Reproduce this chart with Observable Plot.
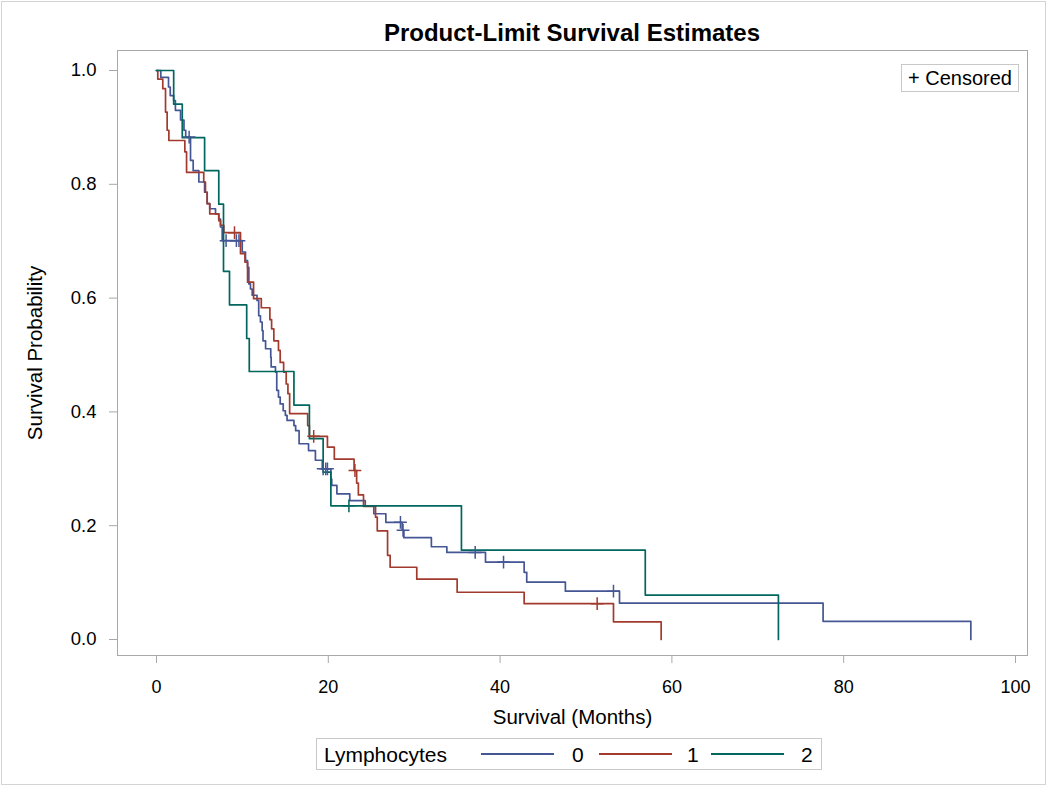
<!DOCTYPE html>
<html><head><meta charset="utf-8">
<script src="https://cdn.jsdelivr.net/npm/d3@7"></script>
<script src="https://cdn.jsdelivr.net/npm/@observablehq/plot@0.6"></script>
<style>
body{margin:0;background:#fff;font-family:"Liberation Sans",Arial,sans-serif;}
#wrap{position:relative;width:1050px;height:788px;overflow:hidden;background:#fff;}
#chart{position:absolute;left:0;top:0;}
#border{position:absolute;left:1px;top:1px;width:1045px;height:784px;border:1px solid #d4d4d4;box-sizing:border-box;}
#title{position:absolute;left:117px;width:910px;top:19px;text-align:center;font-weight:bold;font-size:24px;color:#000;}
#cens{position:absolute;left:901px;top:64px;width:118px;height:28px;border:1px solid #c8c8c8;box-sizing:border-box;font-size:20px;line-height:26px;padding-left:6px;color:#000;background:#fff;white-space:nowrap;}
#legend{position:absolute;left:316px;top:738px;width:506px;height:32px;border:1px solid #c8c8c8;box-sizing:border-box;font-size:21px;color:#000;}
#legend span{position:absolute;top:4px;}
#legend i{position:absolute;top:14px;height:0;border-top:2px solid;}
</style></head>
<body><div id="wrap">
<div id="chart"></div>
<div id="border"></div>
<div id="title">Product-Limit Survival Estimates</div>
<div id="cens">+ Censored</div>
<div id="legend"></div>
</div>
<script>
// Groups (Lymphocytes)
const groups = ["0", "1", "2"];
const colors = ["#445694", "#A23A2E", "#01665E"];
const legendTitle = "Lymphocytes";

// Group 0 event times (months) and survival after each event
const time0 = [0.5,1.4,1.6,2.0,2.2,2.8,3.2,3.4,3.96,4.27,4.93,5.6,5.9,6.2,6.87,7.25,7.45,7.65,9.98,10.36,10.6,10.75,10.94,11.14,11.7,11.9,12.1,12.3,12.4,12.7,13.3,13.35,13.85,14.0,14.2,14.4,14.75,15.0,15.2,16.0,16.2,16.6,17.7,18.5,19.3,20.3,20.4,21.0,22.5,24.3,25.3,26.7,28.6,28.8,32.0,33.8,38.3,42.8,43.1,47.6,53.9,77.6,94.8];
const surv0 = [0.988,0.971,0.956,0.947,0.930,0.913,0.895,0.883,0.842,0.824,0.804,0.786,0.766,0.757,0.748,0.739,0.725,0.701,0.681,0.666,0.654,0.625,0.616,0.605,0.596,0.569,0.558,0.543,0.525,0.511,0.496,0.479,0.470,0.438,0.426,0.414,0.402,0.394,0.385,0.376,0.367,0.344,0.332,0.315,0.300,0.282,0.271,0.256,0.244,0.235,0.221,0.206,0.192,0.179,0.163,0.153,0.136,0.118,0.101,0.085,0.064,0.032,0.0];
const censT0 = [3.8,8.1,9.3,9.6,19.4,19.7,19.9,28.4,28.7,37.1,40.4,53.2];
const censS0 = [0.883,0.701,0.701,0.701,0.300,0.300,0.300,0.206,0.192,0.153,0.136,0.085];

// Group 1
const time1 = [0.15,0.73,1.05,1.24,1.44,3.3,3.5,5.5,5.7,5.9,6.2,7.25,7.45,7.84,9.78,10.3,10.6,11.3,12.2,13.2,13.4,13.66,14.2,14.4,14.8,15.1,15.3,15.5,17.6,17.8,19.9,20.7,23.0,23.3,23.5,24.1,25.5,25.7,26.9,27.2,30.3,35.0,42.8,53.2,58.75];
const surv1 = [0.985,0.968,0.927,0.895,0.877,0.857,0.821,0.804,0.786,0.766,0.748,0.736,0.728,0.715,0.678,0.663,0.628,0.599,0.583,0.562,0.546,0.525,0.508,0.487,0.470,0.449,0.432,0.397,0.376,0.357,0.338,0.317,0.297,0.275,0.254,0.234,0.215,0.191,0.148,0.127,0.106,0.083,0.063,0.031,0.0];
const censT1 = [9.08,18.3,23.1,51.3];
const censS1 = [0.715,0.357,0.297,0.063];

// Group 2
const time2 = [2.0,3.0,5.6,7.25,7.8,8.5,10.5,10.8,16.0,17.8,19.4,20.3,35.5,56.9,72.4];
const surv2 = [0.941,0.882,0.824,0.765,0.647,0.588,0.529,0.471,0.412,0.353,0.294,0.235,0.157,0.078,0.0];
const censT2 = [22.4];
const censS2 = [0.235];

const xTicks = [0,20,40,60,80,100];
const yTicks = [0,0.2,0.4,0.6,0.8,1.0];

const times = [time0, time1, time2], survs = [surv0, surv1, surv2];
const cT = [censT0, censT1, censT2], cS = [censS0, censS1, censS2];
const curves = [], cens = [];
groups.forEach((g, i) => {
  curves.push({g, t: 0, s: 1});
  times[i].forEach((t, j) => curves.push({g, t, s: survs[i][j]}));
  cT[i].forEach((t, j) => cens.push({g, t, s: cS[i][j]}));
});

const font = "Liberation Sans, Arial, sans-serif";
const chart = Plot.plot({
  width: 1050, height: 788,
  marginLeft: 117, marginRight: 23, marginTop: 50, marginBottom: 133,
  x: {domain: [0, 100], insetLeft: 39, insetRight: 12},
  y: {domain: [0, 1], insetTop: 20, insetBottom: 16},
  color: {domain: groups, range: colors},
  style: {fontFamily: font, background: "transparent", color: "#000"},
  marks: [
    Plot.frame({stroke: "#a8a8a8"}),
    Plot.axisX({ticks: xTicks, tickSize: 8, tickPadding: 17, stroke: "#a8a8a8", fill: "#000", fontSize: 18,
      label: "Survival (Months)", labelAnchor: "center", labelArrow: "none", labelOffset: 68}),
    Plot.axisY({ticks: yTicks, tickFormat: d => d.toFixed(1), tickSize: 8, tickPadding: 13, stroke: "#a8a8a8", fill: "#000", fontSize: 18.5,
      label: "Survival Probability", labelAnchor: "center", labelArrow: "none", labelOffset: 90}),
    Plot.line(curves, {x: "t", y: "s", z: "g", stroke: "g", curve: "step-after", strokeWidth: 1.7}),
    Plot.dot(cens, {x: "t", y: "s", stroke: "g", symbol: "plus", r: 4.2, strokeWidth: 1.5})
  ]
});
document.getElementById("chart").appendChild(chart);
chart.querySelectorAll('g[aria-label="x-axis label"] text, g[aria-label="y-axis label"] text').forEach(t => t.setAttribute("font-size", 20.5));

// bottom legend
const leg = document.getElementById("legend");
const pos = [{l: 164, n: 255}, {l: 282, n: 370}, {l: 394, n: 484}];
const ttl = document.createElement("span"); ttl.style.left = "7px"; ttl.textContent = legendTitle; leg.appendChild(ttl);
groups.forEach((g, i) => {
  const ln = document.createElement("i");
  ln.style.left = pos[i].l + "px"; ln.style.width = "73px"; ln.style.borderColor = colors[i];
  leg.appendChild(ln);
  const s = document.createElement("span"); s.style.left = pos[i].n + "px"; s.textContent = g; leg.appendChild(s);
});
</script>
</body></html>
